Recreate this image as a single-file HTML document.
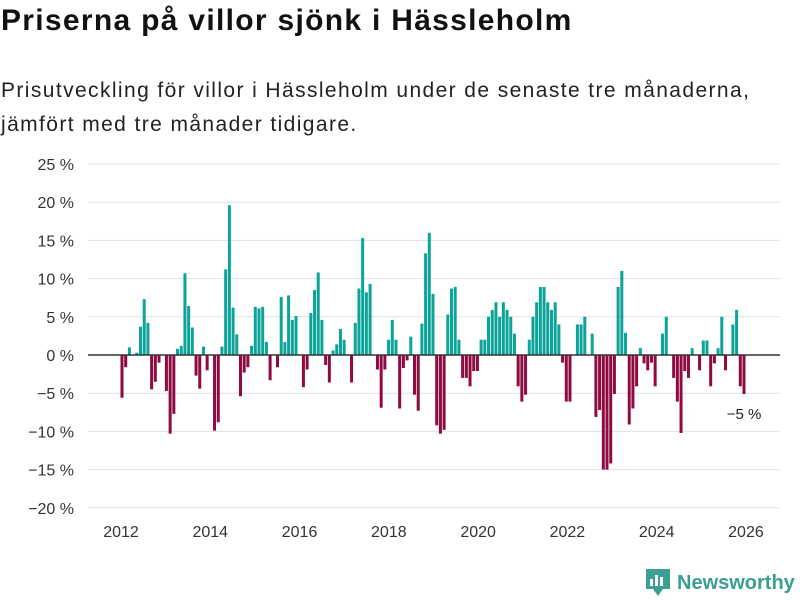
<!DOCTYPE html>
<html><head><meta charset="utf-8">
<style>
html,body{margin:0;padding:0;background:#fff;width:800px;height:600px;overflow:hidden;font-family:"Liberation Sans","DejaVu Sans",sans-serif;}
#title{position:absolute;left:1px;top:4px;font-size:30px;font-weight:bold;color:#111;margin:0;letter-spacing:1.3px}
#sub{position:absolute;left:1px;top:74px;font-size:21px;line-height:34px;color:#222;width:785px;letter-spacing:1.4px}
svg{position:absolute;left:0;top:0}
</style></head><body>
<h1 id="title">Priserna på villor sjönk i Hässleholm</h1>
<div id="sub">Prisutveckling för villor i Hässleholm under de senaste tre månaderna,<br>jämfört med tre månader tidigare.</div>
<svg id="chart" width="800" height="600"></svg>
<script>
const values = [-5.6,-1.6,1,0,0.3,3.7,7.3,4.2,-4.5,-3.5,-1,0,-4.7,-10.3,-7.7,0.8,1.2,10.7,6.4,3.6,-2.7,-4.4,1.1,-2,0,-9.9,-8.8,1.1,11.2,19.6,6.2,2.7,-5.4,-2.3,-1.6,1.2,6.3,6.1,6.3,1.7,-3.3,0,-1.6,
7.6,1.7,7.8,4.6,5.1,0,-4.2,-1.9,5.5,8.5,10.8,4.6,-1.3,-3.6,0.6,1.4,3.4,2,0,-3.6,4.2,8.7,15.3,8.2,9.3,0,-1.9,-6.9,-1.9,2,4.6,2,-7,-1.7,-0.7,2.4,-5.2,-7.3,4.1,13.3,16,8,
-9.2,-10.3,-9.8,5.3,8.7,8.9,2,-3,-3,-4.1,-2.1,-2.1,2,2,5,5.9,6.9,5,6.9,5.9,5,2.8,-4.1,-6.1,-5.2,2,5,6.9,8.9,8.9,6.9,5.9,6.9,4,-1,-6.1,-6.1,0,4,4,5,0,2.8,
-8.1,-7.2,-15,-15,-14.2,-5.1,8.9,11,2.9,-9.1,-7,-4.1,0.9,-1.1,-2,-1,-4.1,0,2.8,5,0,-3,-6.1,-10.2,-2.1,-3,0.9,0,-2,1.9,1.9,-4.1,-1.1,0.9,5,-2,0,4,5.9,-4.1,-5.1];
const yTicks = [25,20,15,10,5,0,-5,-10,-15,-20];
const yearTicks = [2012,2014,2016,2018,2020,2022,2024,2026];
const lastLabel = "−5 %";

const NS="http://www.w3.org/2000/svg";
const svg=document.getElementById('chart');
const y=v=>355-v*7.64;
const xYear=yr=>121+(yr-2012)*44.64;
const xBar=i=>122+i*(622/(values.length-1));
function mk(t,a){const e=document.createElementNS(NS,t);for(const k in a)e.setAttribute(k,a[k]);svg.appendChild(e);return e;}
yTicks.forEach(t=>{
  if(t!==0){const g=mk('line',{x1:88,x2:780,y1:y(t),y2:y(t),stroke:'#e0e0e0','stroke-width':1});
  
  }
  const l=mk('text',{x:74,y:y(t)+6,'text-anchor':'end','font-size':16,fill:'#333'});
  l.textContent=(t<0?'−'+(-t):t)+' %';
  
  
});
yearTicks.forEach(yr=>{
  const l=mk('text',{x:xYear(yr),y:537,'text-anchor':'middle','font-size':16,fill:'#333'});
  l.textContent=yr;
  
  
});
values.forEach((v,i)=>{
  if(v===0)return;
  const top=Math.min(y(v),y(0)), h=Math.abs(y(v)-y(0));
  const r=mk('rect',{x:xBar(i)-1.5,y:top,width:3,height:h,fill:v>0?'#0ca399':'#8e0a40'});
  
  
});
const z=mk('line',{x1:88,x2:780,y1:y(0),y2:y(0),stroke:'#333','stroke-width':1.5});


const a=mk('text',{x:744,y:y(values[values.length-1])+25,'font-size':15,fill:'#222','text-anchor':'middle'});
a.textContent=lastLabel;


</script>
<div style="position:absolute;left:645px;top:568px;height:30px;display:flex;align-items:center">
<svg width="26" height="30" style="position:static" viewBox="0 0 26 30"><path d="M1 1h24v20h-7l-5 7-5-7H1z" fill="#3a9e91"/><rect x="5" y="11" width="3" height="7" fill="#fff"/><rect x="10" y="7" width="3" height="11" fill="#fff"/><rect x="15" y="9" width="3" height="9" fill="#fff"/></svg>
<span style="font-size:20px;font-weight:bold;color:#3a9e91;margin-left:6px">Newsworthy</span></div>
</body></html>
